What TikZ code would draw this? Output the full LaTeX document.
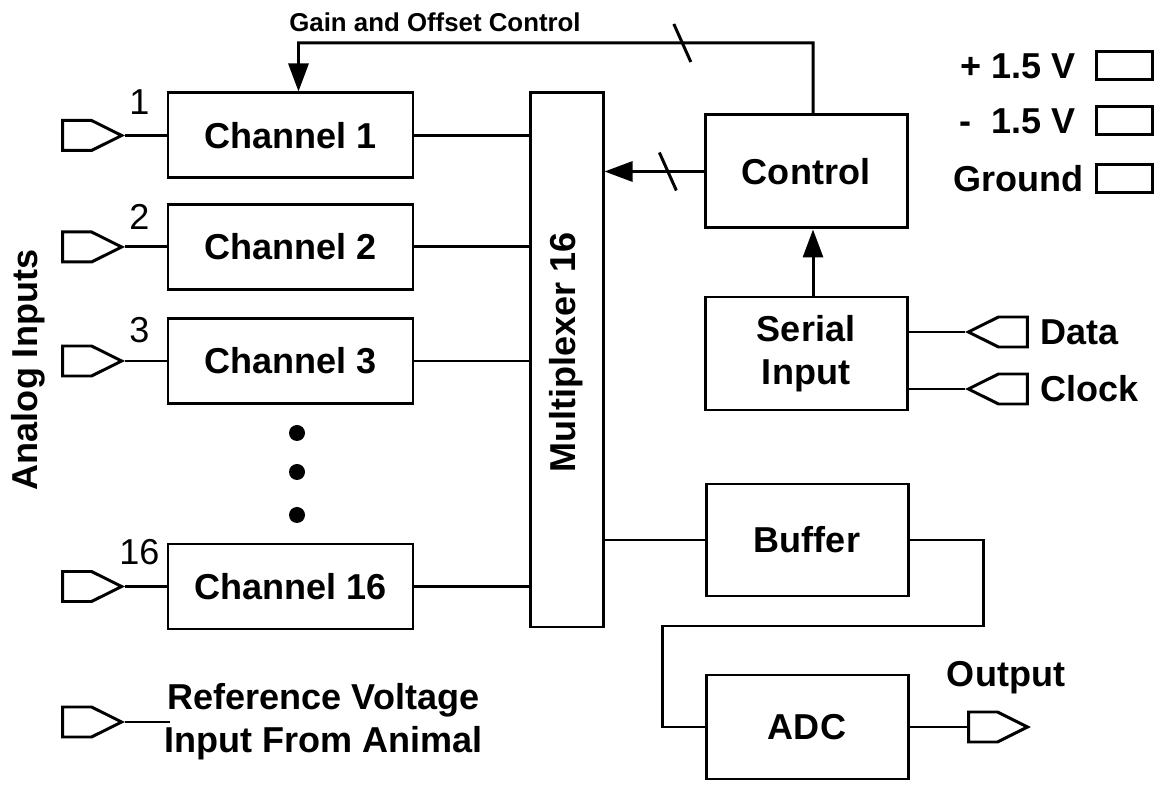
\documentclass[tikz,border=0pt]{standalone}
\usepackage{fontspec}
\setmainfont{Liberation Sans}
\usetikzlibrary{arrows.meta,positioning,calc,shapes.symbols}

\begin{document}
\begin{tikzpicture}[
  line width=1.7pt,
  font=\fontsize{20.5}{24.5}\selectfont\bfseries,
  box/.style={draw,minimum width=4.04cm,minimum height=2.26cm,align=center,inner sep=0pt},
  chan/.style={draw,minimum width=4.9cm,minimum height=1.7cm,inner sep=0pt},
  term/.style={draw,signal,signal pointer angle=53,inner sep=0pt,minimum width=1.18cm,minimum height=0.6cm},
  pad/.style={draw,minimum width=1.12cm,minimum height=0.56cm,inner sep=0pt},
  ar/.style={-{Triangle[length=5.6mm,width=4mm]}},
  dot/.style={circle,fill,inner sep=0pt,minimum size=3.2mm},
  num/.style={font=\fontsize{20.5}{24.5}\selectfont\mdseries,inner sep=0pt},
  lab/.style={inner sep=0pt},
  small/.style={font=\fontsize{14.7}{17}\selectfont\bfseries,inner sep=0pt}
]
\useasboundingbox (0,0) rectangle (23.18,15.76);

% channels and their inputs
\node[chan] (ch1)  at (5.81,13.05) {Channel 1};
\node[chan] (ch2)  at (5.81,10.82) {Channel 2};
\node[chan] (ch3)  at (5.81,8.54)  {Channel 3};
\node[chan] (ch16) at (5.81,4.03)  {Channel 16};
\node[term,signal to=east,anchor=east] (in1)  at (2.5,13.05) {};
\node[term,signal to=east,anchor=east] (in2)  at (2.5,10.82) {};
\node[term,signal to=east,anchor=east] (in3)  at (2.5,8.54)  {};
\node[term,signal to=east,anchor=east] (in16) at (2.5,4.03)  {};
\foreach \c in {1,2,3,16} \draw (in\c.east) -- (ch\c.west);
\node[num] (n1)  at (2.79,13.71) {1};
\node[num] (n2)  at (2.79,11.42) {2};
\node[num] (n3)  at (2.79,9.16)  {3};
\node[num] (n16) at (2.79,4.71)  {16};
\node[dot] (d1) at (5.94,7.10) {};
\node[dot] (d2) at (5.94,6.32) {};
\node[dot] (d3) at (5.94,5.46) {};
\node[lab,rotate=90] (ain) at (0.56,8.36) {Analog Inputs};

% multiplexer
\node[draw,minimum width=1.46cm,minimum height=10.68cm,inner sep=0pt] (mux) at (11.33,8.56) {};
\node[lab,rotate=90] (muxt) at ($(mux.center)+(0,0.15)$) {Multiplexer 16};
\foreach \c in {1,2,3,16} \draw (ch\c.east) -- (ch\c.east -| mux.west);

% control side
\node[box] (ctrl) at (16.12,12.33) {Control};
\node[box] (ser)  at (16.12,8.69)  {Serial\\Input};
\draw[ar] ($(ser.north)+(0.14,0)$) -- ($(ctrl.south)+(0.14,0)$);
\draw[ar] (ctrl.west) -- coordinate[pos=0.36] (s1) (ctrl.west -| mux.east);
\draw ($(s1)+(-0.17,0.38)$) -- ($(s1)+(0.17,-0.38)$);
\coordinate (fb) at (16.26,14.9);
\coordinate (fbin) at ($(ch1.north)+(0.16,0)$);
\draw[ar] ($(ctrl.north)+(0.14,0)$) -- (fb) -- coordinate[pos=0.254] (s2) (fb -| fbin) -- (fbin);
\draw ($(s2)+(-0.17,0.38)$) -- ($(s2)+(0.17,-0.38)$);
\node[small] (gain) at (8.7,15.32) {Gain and Offset Control};

\node[term,signal to=west,anchor=west] (dat) at (19.3,9.12) {};
\node[term,signal to=west,anchor=west] (clk) at (19.3,7.98) {};
\draw (dat.west) -- (dat.west -| ser.east);
\draw (clk.west) -- (clk.west -| ser.east);
\node[lab,right=0.2cm of dat] (datt) {Data};
\node[lab,right=0.2cm of clk] (clkt) {Clock};

% buffer and converter
\node[box,minimum height=2.24cm] (buf) at (16.14,4.96) {Buffer};
\node[box,minimum height=2.08cm] (adc) at (16.14,1.22) {ADC};
\draw (buf.west) -- (buf.west -| mux.east);
\coordinate (jog) at (13.24,3.24);
\draw (buf.east) -| (19.66,3.24) -- (jog) |- (adc.west);
\node[term,signal to=east,anchor=west] (out) at (19.34,1.22) {};
\draw (adc.east) -- (out.west);
\node[lab] (outt) at (20.12,2.2) {Output};

% supply pads
\node[pad] (pp) at (22.48,14.44) {};
\node[pad] (pm) at (22.48,13.34) {};
\node[pad] (pg) at (22.48,12.19) {};
\node[lab,anchor=east] (ppt) at (21.54,14.44) {+ 1.5 V};
\node[lab,anchor=east] (pmt) at (21.54,13.34) {-\ \ 1.5 V};
\node[lab,anchor=east] (pgt) at (21.70,12.19) {Ground};

% reference input
\node[term,signal to=east,anchor=east] (ref) at (2.5,1.32) {};
\coordinate (refe) at (3.4,1.32);
\draw (ref.east) -- (refe);
\node[lab,align=center] (reft) at (6.47,1.32) {Reference Voltage\\Input From Animal};
\end{tikzpicture}
\end{document}
